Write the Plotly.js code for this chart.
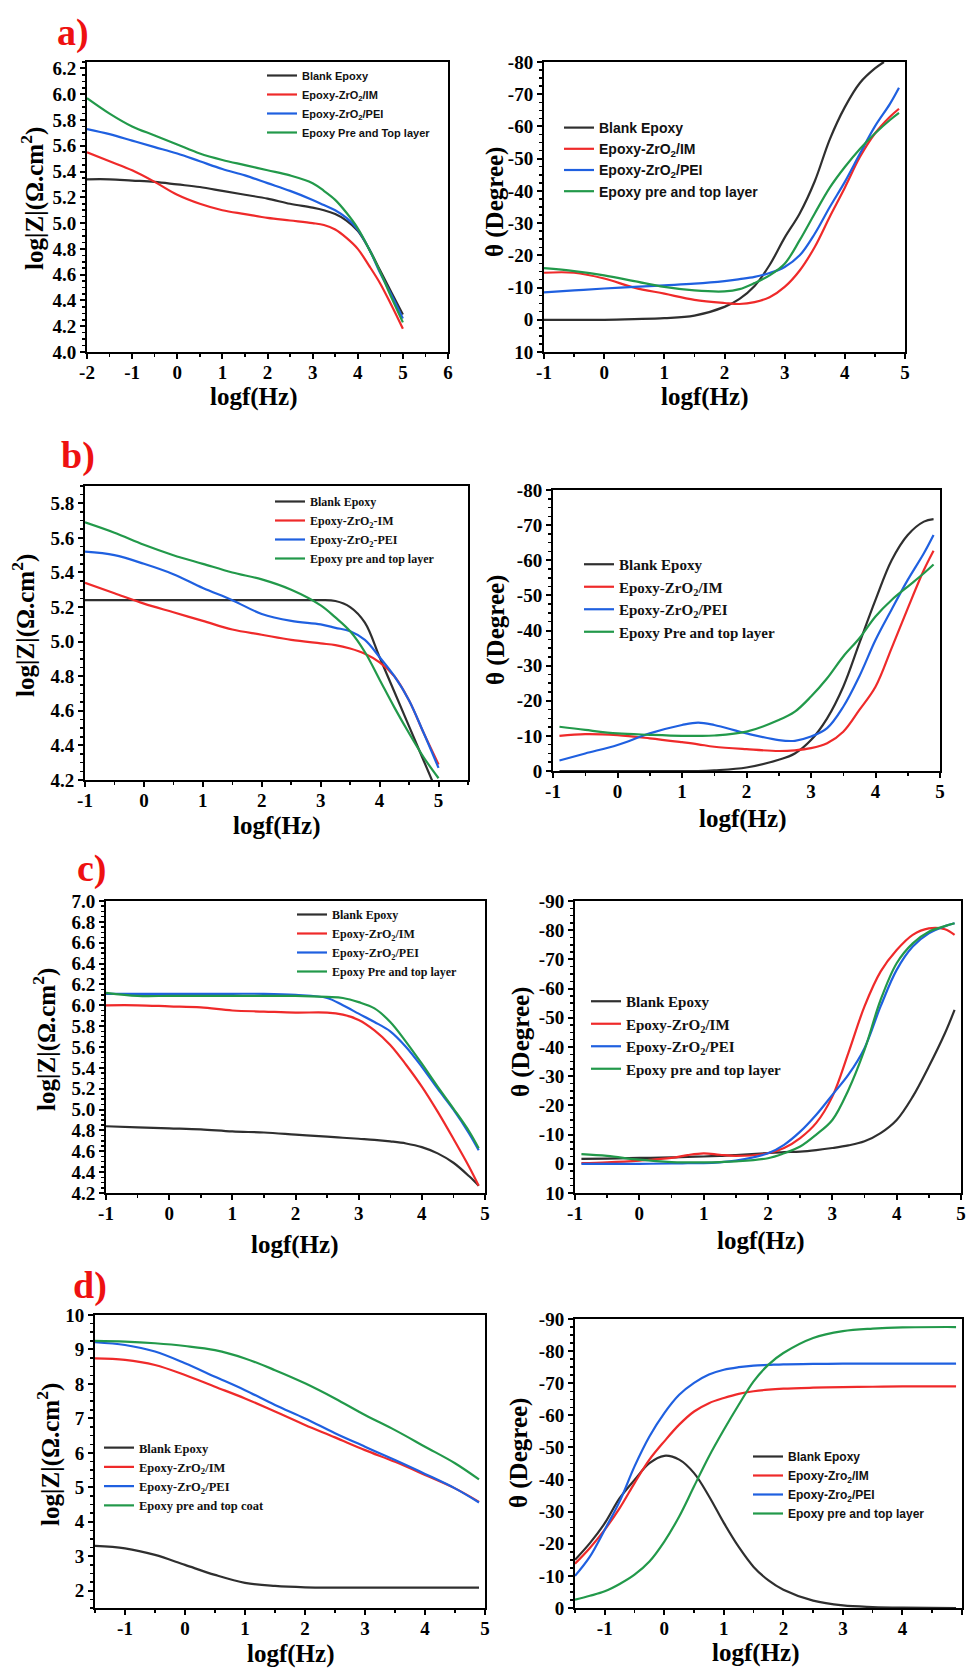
<!DOCTYPE html>
<html><head><meta charset="utf-8">
<script src="https://cdn.plot.ly/plotly-3.0.1.min.js"></script>
<style>html,body{margin:0;padding:0;background:#fff}</style>
</head><body><div id="chart" style="width:966px;height:1669px"></div>
<script>
// ---------- DATA ----------
// a) Bode |Z|
const aZ_x = [-2,-1.5,-1,-0.5,0,0.5,1,1.5,2,2.5,3,3.25,3.5,3.75,4,4.25,4.5,4.75,5];
const aZ_blank = [5.34,5.34,5.33,5.32,5.30,5.28,5.25,5.22,5.19,5.15,5.12,5.10,5.07,5.02,4.94,4.80,4.63,4.46,4.29];
const aZ_im    = [5.55,5.48,5.41,5.32,5.22,5.15,5.10,5.07,5.04,5.02,5.00,4.985,4.95,4.885,4.80,4.67,4.53,4.36,4.18];
const aZ_pei   = [5.73,5.69,5.64,5.59,5.54,5.48,5.42,5.37,5.31,5.25,5.18,5.14,5.10,5.04,4.95,4.80,4.61,4.44,4.26];
const aZ_top   = [5.97,5.85,5.75,5.68,5.61,5.54,5.49,5.45,5.41,5.37,5.31,5.25,5.18,5.08,4.96,4.80,4.62,4.42,4.23];
// a) phase
const aP_x = [-1,-0.5,0,0.5,1,1.5,2,2.25,2.5,2.75,3,3.25,3.5,3.75,4,4.25,4.5,4.75,4.9];
const aP_blank_x = [-1,-0.5,0,0.5,1,1.5,2,2.25,2.5,2.75,3,3.25,3.5,3.75,4,4.25,4.5,4.65];
const aP_blank = [0,0,0,-0.2,-0.5,-1.3,-4,-6.5,-10.5,-17,-25.5,-33,-43,-56,-66,-73.5,-78,-80];
const aP_im    = [-14.6,-14.6,-12.8,-10,-8.1,-6.2,-5.2,-4.9,-5.5,-7,-10.2,-15.3,-22.6,-32,-41,-50.5,-57.8,-63,-65.5];
const aP_pei   = [-8.5,-9.1,-9.7,-10.2,-10.7,-11.2,-12,-12.6,-13.3,-14.5,-16.4,-20,-26.7,-35,-42.8,-51.5,-60,-67,-72];
const aP_top   = [-16,-15.1,-13.8,-12,-10.2,-9.1,-8.8,-9.5,-11.4,-13.8,-17.4,-24.7,-33,-41,-47.4,-53,-57.8,-62,-64.2];
// b) Bode |Z|
const bZ_x = [-1,-0.5,0,0.5,1,1.5,2,2.5,3,3.25,3.5,3.75,4,4.25,4.5,4.75,5];
const bZ_blank_x = [-1,-0.5,0,0.5,1,1.5,2,2.5,3,3.25,3.5,3.75,4,4.25,4.5,4.75,4.9];
const bZ_blank = [5.24,5.24,5.24,5.24,5.24,5.24,5.24,5.24,5.24,5.235,5.20,5.11,4.91,4.71,4.51,4.31,4.19];
const bZ_im    = [5.34,5.28,5.22,5.17,5.12,5.07,5.04,5.01,4.99,4.98,4.96,4.93,4.88,4.80,4.66,4.47,4.29];
const bZ_pei   = [5.52,5.50,5.45,5.39,5.31,5.24,5.16,5.12,5.10,5.08,5.06,5.01,4.91,4.80,4.66,4.47,4.27];
const bZ_top   = [5.69,5.63,5.56,5.50,5.45,5.40,5.36,5.30,5.21,5.14,5.06,4.94,4.78,4.62,4.47,4.33,4.21];
// b) phase
const bP_x = [-0.9,-0.5,0,0.5,1,1.25,1.5,2,2.5,2.75,3,3.25,3.5,3.75,4,4.25,4.5,4.75,4.9];
const bP_blank = [0,0,0,0,0,0,-0.2,-1,-3.2,-5,-8.8,-15,-24,-36.4,-48.7,-60,-67.2,-71,-71.7];
const bP_im    = [-10,-10.5,-10.2,-9.3,-8.2,-7.6,-6.9,-6.2,-5.7,-5.9,-6.5,-7.9,-11.2,-17.4,-24,-35,-46.3,-57.2,-62.7];
const bP_pei   = [-3,-5,-7.4,-10.7,-13.1,-13.8,-13.1,-10.7,-8.8,-8.6,-9.8,-12.2,-18.3,-27,-37.3,-46,-54.4,-62,-67.2];
const bP_top   = [-12.6,-11.7,-10.7,-10.3,-10,-10,-10.1,-11.2,-14.5,-16.9,-21.2,-26.4,-32.6,-37.8,-44,-48.7,-52.5,-56.3,-58.8];
// c) Bode |Z|
const cZ_x = [-1,-0.5,0,0.5,1,1.5,2,2.5,2.75,3,3.25,3.5,3.75,4,4.25,4.5,4.75,4.9];
const cZ_blank = [4.84,4.83,4.82,4.81,4.79,4.78,4.76,4.74,4.73,4.72,4.71,4.695,4.675,4.64,4.58,4.49,4.36,4.27];
const cZ_im    = [6.00,6.00,5.99,5.98,5.95,5.94,5.93,5.93,5.91,5.86,5.76,5.62,5.43,5.22,4.98,4.72,4.45,4.27];
const cZ_pei   = [6.11,6.11,6.11,6.11,6.11,6.11,6.10,6.07,6.00,5.92,5.84,5.75,5.60,5.41,5.20,5.00,4.77,4.61];
const cZ_top   = [6.12,6.09,6.09,6.09,6.09,6.09,6.09,6.08,6.07,6.03,5.97,5.84,5.65,5.44,5.22,5.01,4.79,4.63];
// c) phase
const cP_x = [-0.9,-0.5,0,0.5,0.75,1,1.25,1.5,2,2.25,2.5,2.75,3,3.25,3.5,3.75,4,4.25,4.5,4.75,4.9];
const cP_blank = [-1.7,-1.8,-2,-2.2,-2.4,-2.5,-2.7,-3,-3.7,-4,-4.2,-4.7,-5.4,-6.3,-7.7,-10.5,-15,-23,-33.3,-44.7,-52.7];
const cP_im    = [-0.2,-0.5,-1.1,-2,-3,-3.6,-3.1,-2.7,-3.6,-5.4,-8.8,-14,-23,-38,-53.9,-65.8,-73.2,-78.4,-80.6,-80.3,-78.4];
const cP_pei   = [0,0,0,-0.1,-0.2,-0.2,-0.5,-1.1,-3.6,-6.5,-11,-16.8,-23.6,-30.5,-39.6,-53.9,-66.4,-74.4,-78.9,-81.4,-82.4];
const cP_top   = [-3.3,-2.7,-1.4,-0.6,-0.5,-0.5,-0.6,-0.8,-1.9,-3.6,-5.9,-10,-15,-25.3,-39,-56.1,-68.7,-75.5,-79.5,-81.4,-82.4];
// d) Bode |Z|
const dZ_x = [-1.5,-1,-0.5,0,0.5,1,1.5,2,2.5,3,3.5,4,4.5,4.9];
const dZ_blank = [3.30,3.23,3.04,2.75,2.46,2.23,2.14,2.10,2.09,2.09,2.09,2.09,2.09,2.09];
const dZ_im    = [8.74,8.70,8.55,8.26,7.92,7.58,7.20,6.81,6.45,6.08,5.74,5.36,4.97,4.58];
const dZ_pei   = [9.21,9.13,8.94,8.60,8.21,7.82,7.39,7.00,6.57,6.18,5.79,5.39,4.97,4.56];
const dZ_top   = [9.25,9.23,9.18,9.10,8.98,8.74,8.40,8.02,7.58,7.10,6.66,6.18,5.70,5.23];
// d) phase
const dP_x = [-1.5,-1.25,-1,-0.75,-0.5,-0.25,0,0.25,0.5,0.75,1,1.25,1.5,1.75,2,2.5,3,3.5,4,4.9];
const dP_blank = [-15,-20.2,-26.4,-34.2,-39.9,-45.1,-47.4,-46.2,-42,-34.8,-26.5,-19,-12.8,-8.6,-5.7,-2.3,-0.8,-0.3,-0.1,0];
const dP_im    = [-13.8,-18.7,-24.4,-31.1,-38.9,-46.2,-51.9,-57.1,-61.2,-63.8,-65.4,-66.7,-67.5,-68,-68.3,-68.6,-68.8,-68.9,-69,-69];
const dP_pei   = [-10,-16,-24.4,-33.2,-44.1,-53.4,-60.7,-66.4,-70.1,-72.7,-74.2,-75,-75.5,-75.7,-75.9,-76,-76.1,-76.1,-76.1,-76.1];
const dP_top   = [-2.6,-3.8,-5.2,-7.5,-10.4,-14.5,-20.7,-28.5,-37.9,-47.2,-55.5,-63.3,-70.6,-75.8,-79.4,-84.1,-86.2,-87,-87.4,-87.5];

// legend labels
const namesA1 = ['Blank Epoxy','Epoxy-ZrO<sub>2</sub>/IM','Epoxy-ZrO<sub>2</sub>/PEI','Epoxy Pre and Top layer'];
const namesA2 = ['Blank Epoxy','Epoxy-ZrO<sub>2</sub>/IM','Epoxy-ZrO<sub>2</sub>/PEI','Epoxy pre and top layer'];
const namesB1 = ['Blank Epoxy','Epoxy-ZrO<sub>2</sub>-IM','Epoxy-ZrO<sub>2</sub>-PEI','Epoxy pre and top layer'];
const namesB2 = ['Blank Epoxy','Epoxy-ZrO<sub>2</sub>/IM','Epoxy-ZrO<sub>2</sub>/PEI','Epoxy Pre and top layer'];
const namesC1 = ['Blank Epoxy','Epoxy-ZrO<sub>2</sub>/IM','Epoxy-ZrO<sub>2</sub>/PEI','Epoxy Pre and top layer'];
const namesC2 = ['Blank Epoxy','Epoxy-ZrO<sub>2</sub>/IM','Epoxy-ZrO<sub>2</sub>/PEI','Epoxy pre and top layer'];
const namesD1 = ['Blank Epoxy','Epoxy-ZrO<sub>2</sub>/IM','Epoxy-ZrO<sub>2</sub>/PEI','Epoxy pre and top coat'];
const namesD2 = ['Blank Epoxy','Epoxy-Zro<sub>2</sub>/IM','Epoxy-Zro<sub>2</sub>/PEI','Epoxy pre and top layer'];

// tick values / labels
const ticksX_A1 = [-2,-1,0,1,2,3,4,5,6];
const ticksX_std = [-1,0,1,2,3,4,5];
const ticksY_A1 = [4.0,4.2,4.4,4.6,4.8,5.0,5.2,5.4,5.6,5.8,6.0,6.2];
const ticksY_B1 = [4.2,4.4,4.6,4.8,5.0,5.2,5.4,5.6,5.8];
const ticksY_C1 = [4.2,4.4,4.6,4.8,5.0,5.2,5.4,5.6,5.8,6.0,6.2,6.4,6.6,6.8,7.0];
const ticksY_D1 = [2,3,4,5,6,7,8,9,10];
const ticksY_A2 = [-80,-70,-60,-50,-40,-30,-20,-10,0,10];
const ticksY_B2 = [-80,-70,-60,-50,-40,-30,-20,-10,0];
const ticksY_C2 = [-90,-80,-70,-60,-50,-40,-30,-20,-10,0,10];
const ticksY_D2 = [-90,-80,-70,-60,-50,-40,-30,-20,-10,0];

const panelLabels = ['a)','b)','c)','d)'];
const xTitle = 'logf(Hz)';
const zTitle = 'log|Z|(Ω.cm<sup>2</sup>)';
const pTitle = 'θ (Degree)';

// ---------- STYLE / LAYOUT ----------
const W = 966, H = 1669;
const COLORS = ['#2f2f2f','#ef2a2a','#1f60e0','#22994a'];
const SERIF = 'Liberation Serif';
const SANS = 'Liberation Sans';

function fmt(v, d){ return d===0 ? String(v) : v.toFixed(d); }

const panels = [
  {xs:[aZ_x,aZ_x,aZ_x,aZ_x], ys:[aZ_blank,aZ_im,aZ_pei,aZ_top], names:namesA1, box:[87,448,62,352], xr:[-2,6], yr:[4.0,6.25], xt:ticksX_A1, yt:ticksY_A1, yd:1, xm:0.5, ym:0.05, yTitle:zTitle, xtp:[254,397], ytp:[32,199], leg:{x:262,y:61,font:SANS,size:11}},
  {xs:[aP_blank_x,aP_x,aP_x,aP_x], ys:[aP_blank,aP_im,aP_pei,aP_top], names:namesA2, box:[544,905,62,352], xr:[-1,5], yr:[10,-80], xt:ticksX_std, yt:ticksY_A2, yd:0, xm:0.5, ym:2.5, yTitle:pTitle, xtp:[704,397], ytp:[495,202], leg:{x:559,y:112,font:SANS,size:14}},
  {xs:[bZ_blank_x,bZ_x,bZ_x,bZ_x], ys:[bZ_blank,bZ_im,bZ_pei,bZ_top], names:namesB1, box:[85,468,486,780], xr:[-1,5.5], yr:[4.2,5.9], xt:ticksX_std, yt:ticksY_B1, yd:1, xm:0.5, ym:0.05, yTitle:zTitle, xtp:[276,826], ytp:[23,626], leg:{x:270,y:487,font:SERIF,size:12}},
  {xs:[bP_x,bP_x,bP_x,bP_x], ys:[bP_blank,bP_im,bP_pei,bP_top], names:namesB2, box:[553,940,490,771], xr:[-1,5], yr:[0,-80], xt:ticksX_std, yt:ticksY_B2, yd:0, xm:0.5, ym:2.5, yTitle:pTitle, xtp:[742,819], ytp:[496,630], leg:{x:579,y:548,font:SERIF,size:15}},
  {xs:[cZ_x,cZ_x,cZ_x,cZ_x], ys:[cZ_blank,cZ_im,cZ_pei,cZ_top], names:namesC1, box:[106,485,901,1193], xr:[-1,5], yr:[4.2,7.0], xt:ticksX_std, yt:ticksY_C1, yd:1, xm:0.5, ym:0.05, yTitle:zTitle, xtp:[294,1245], ytp:[44,1040], leg:{x:292,y:900,font:SERIF,size:12}},
  {xs:[cP_x,cP_x,cP_x,cP_x], ys:[cP_blank,cP_im,cP_pei,cP_top], names:namesC2, box:[575,961,901,1193], xr:[-1,5], yr:[10,-90], xt:ticksX_std, yt:ticksY_C2, yd:0, xm:0.5, ym:2.5, yTitle:pTitle, xtp:[760,1241], ytp:[521,1042], leg:{x:586,y:985,font:SERIF,size:15}},
  {xs:[dZ_x,dZ_x,dZ_x,dZ_x], ys:[dZ_blank,dZ_im,dZ_pei,dZ_top], names:namesD1, box:[95,485,1315,1608], xr:[-1.5,5], yr:[1.5,10], xt:ticksX_std, yt:ticksY_D1, yd:0, xm:0.5, ym:0.25, yTitle:zTitle, xtp:[290,1654], ytp:[48,1455], leg:{x:99,y:1433,font:SERIF,size:12.5}},
  {xs:[dP_x,dP_x,dP_x,dP_x], ys:[dP_blank,dP_im,dP_pei,dP_top], names:namesD2, box:[575,962,1319,1608], xr:[-1.5,5], yr:[0,-90], xt:ticksX_std, yt:ticksY_D2, yd:0, xm:0.5, ym:2.5, yTitle:pTitle, xtp:[755,1653], ytp:[519,1453], leg:{x:748,y:1442,font:SANS,size:12}}
];

const traces = [];
const layout = {
  width: W, height: H, margin:{l:0,r:0,t:0,b:0},
  paper_bgcolor:'#ffffff', plot_bgcolor:'#ffffff',
  font:{family:SERIF, color:'#000'},
  annotations:[], showlegend:true
};
const titleFont = {family:SERIF, size:25, color:'#000', weight:'bold'};

panels.forEach((p, i) => {
  const n = i + 1;
  const xa = 'x' + (n === 1 ? '' : n), ya = 'y' + (n === 1 ? '' : n);
  const legKey = 'legend' + (n === 1 ? '' : n);
  for (let k = 0; k < 4; k++) {
    traces.push({
      type:'scatter', mode:'lines', x:p.xs[k], y:p.ys[k], name:p.names[k],
      xaxis:xa, yaxis:ya, legend:legKey,
      line:{color:COLORS[k], width:2.2, shape:'spline', smoothing:1},
      hoverinfo:'skip'
    });
  }
  const [l, r, t, b] = p.box;
  const common = {
    showline:true, linecolor:'#000', linewidth:2, mirror:true,
    showgrid:false, zeroline:false, ticks:'outside', ticklen:5, tickwidth:2, tickcolor:'#000',
    tickfont:{family:SERIF, size:19, color:'#000', weight:'bold'},
    tickmode:'array', automargin:false, fixedrange:true
  };
  layout['xaxis' + (n === 1 ? '' : n)] = Object.assign({}, common, {
    domain:[l / W, r / W], anchor:ya, range:p.xr,
    tickvals:p.xt, ticktext:p.xt.map(v => String(v)), ticklabelstandoff:-3,
    minor:{tickmode:'linear', tick0:0, dtick:p.xm, ticks:'outside', ticklen:3, tickwidth:1.5, tickcolor:'#000'}
  });
  layout['yaxis' + (n === 1 ? '' : n)] = Object.assign({}, common, {
    domain:[1 - b / H, 1 - t / H], anchor:xa, range:p.yr,
    tickvals:p.yt, ticktext:p.yt.map(v => fmt(v, p.yd)),
    minor:{tickmode:'linear', tick0:0, dtick:p.ym, ticks:'outside', ticklen:3, tickwidth:1.5, tickcolor:'#000'}
  });
  layout[legKey] = {
    x:p.leg.x / W, y:1 - p.leg.y / H, xanchor:'left', yanchor:'top',
    bgcolor:'rgba(0,0,0,0)', borderwidth:0,
    font:{family:p.leg.font, size:p.leg.size, color:'#111', weight:'bold'},
    itemwidth:30, tracegroupgap:0
  };
  // axis titles
  layout.annotations.push({
    text:xTitle, xref:'paper', yref:'paper', x:p.xtp[0] / W, y:1 - p.xtp[1] / H,
    xanchor:'center', yanchor:'middle', showarrow:false, font:titleFont
  });
  layout.annotations.push({
    text:p.yTitle, xref:'paper', yref:'paper', x:p.ytp[0] / W, y:1 - p.ytp[1] / H,
    xanchor:'center', yanchor:'middle', showarrow:false, textangle:-90, font:titleFont
  });
});

const labelPos = [[73,33],[78,455],[92,868],[90,1285]];
panelLabels.forEach((t, i) => {
  layout.annotations.push({
    text:t, xref:'paper', yref:'paper', x:labelPos[i][0] / W, y:1 - labelPos[i][1] / H,
    xanchor:'center', yanchor:'middle', showarrow:false,
    font:{family:SERIF, size:38, color:'#ee1111', weight:'bold'}
  });
});

Plotly.newPlot('chart', traces, layout, {displayModeBar:false, staticPlot:true});
</script></body></html>
